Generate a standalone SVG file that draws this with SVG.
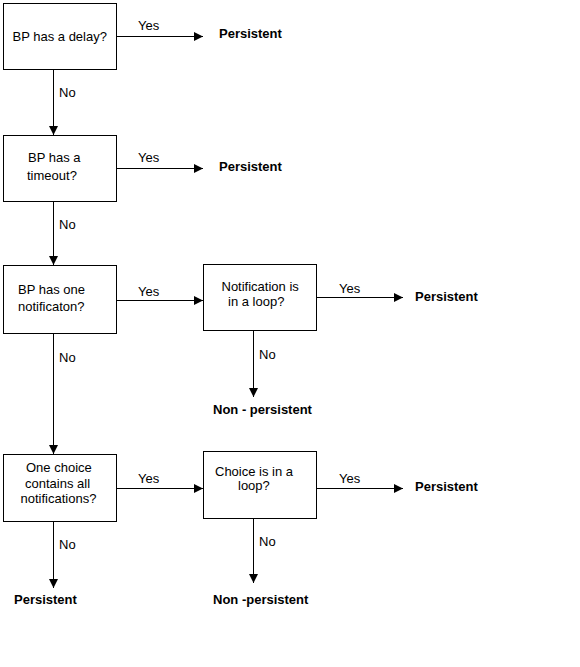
<svg xmlns="http://www.w3.org/2000/svg" width="580" height="667" viewBox="0 0 580 667">
<defs>
<style>
.box{fill:#fff;stroke:#000;stroke-width:1}
.t{font-family:"Liberation Sans",Arial,sans-serif;font-size:13px;fill:#000}
.b{font-family:"Liberation Sans",Arial,sans-serif;font-size:13px;font-weight:bold;fill:#000}
.c{stroke:#000;stroke-width:1;fill:none;marker-end:url(#ah)}
</style>
<marker id="ah" markerUnits="userSpaceOnUse" markerWidth="10" markerHeight="10" refX="9" refY="4.5" orient="auto">
<path d="M0,0 L9,4.5 L0,9 Z" fill="#000"/>
</marker>
</defs>
<rect width="580" height="667" fill="#fff"/>
<g id="connectors">
<line class="c" x1="116.5" y1="36.5" x2="203" y2="36.5"/>
<line class="c" x1="53.5" y1="69.5" x2="53.5" y2="135"/>
<line class="c" x1="116.5" y1="168.5" x2="203" y2="168.5"/>
<line class="c" x1="53.5" y1="201.5" x2="53.5" y2="265"/>
<line class="c" x1="116.5" y1="300.5" x2="203" y2="300.5"/>
<line class="c" x1="316.5" y1="297.5" x2="403" y2="297.5"/>
<line class="c" x1="253.5" y1="330.5" x2="253.5" y2="397"/>
<line class="c" x1="53.5" y1="333.5" x2="53.5" y2="454"/>
<line class="c" x1="116.5" y1="488.5" x2="203" y2="488.5"/>
<line class="c" x1="316.5" y1="488.5" x2="403" y2="488.5"/>
<line class="c" x1="253.5" y1="518.5" x2="253.5" y2="583"/>
<line class="c" x1="53.5" y1="521.5" x2="53.5" y2="588"/>
<text class="t" x="138" y="30">Yes</text>
<text class="t" x="59" y="97">No</text>
<text class="t" x="138" y="162">Yes</text>
<text class="t" x="59" y="229">No</text>
<text class="t" x="138" y="296">Yes</text>
<text class="t" x="339" y="292.5">Yes</text>
<text class="t" x="259" y="358.5">No</text>
<text class="t" x="59" y="361.5">No</text>
<text class="t" x="138" y="482.5">Yes</text>
<text class="t" x="339" y="482.5">Yes</text>
<text class="t" x="59" y="548.5">No</text>
<text class="t" x="259" y="545.5">No</text>
</g>
<g id="n1">
<rect class="box" x="3.5" y="3.5" width="113" height="66"/>
<text class="t" x="12.5" y="41">BP has a delay?</text>
</g>
<g id="n1p"><text class="b" x="219" y="38">Persistent</text></g>
<g id="n2">
<rect class="box" x="3.5" y="135.5" width="113" height="66"/>
<text class="t" x="28" y="162">BP has a</text>
<text class="t" x="27" y="179.5">timeout?</text>
</g>
<g id="n2p"><text class="b" x="219" y="171">Persistent</text></g>
<g id="n3">
<rect class="box" x="3.5" y="265.5" width="113" height="68"/>
<text class="t" x="18" y="294">BP has one</text>
<text class="t" x="18" y="311">notificaton?</text>
</g>
<g id="n4">
<rect class="box" x="203.5" y="264.5" width="113" height="66"/>
<text class="t" x="221.5" y="290.5">Notification is</text>
<text class="t" x="228" y="305.5">in a loop?</text>
</g>
<g id="n4p"><text class="b" x="415" y="300.5">Persistent</text></g>
<g id="n4n"><text class="b" x="213" y="413.5">Non - persistent</text></g>
<g id="n5">
<rect class="box" x="3.5" y="454.5" width="113" height="67"/>
<text class="t" x="26" y="472">One choice</text>
<text class="t" x="25" y="487.5">contains all</text>
<text class="t" x="20.5" y="503">notifications?</text>
</g>
<g id="n5p"><text class="b" x="14" y="604">Persistent</text></g>
<g id="n6">
<rect class="box" x="203.5" y="451.5" width="113" height="67"/>
<text class="t" x="215" y="475.5">Choice is in a</text>
<text class="t" x="238" y="490">loop?</text>
</g>
<g id="n6p"><text class="b" x="415" y="491">Persistent</text></g>
<g id="n6n"><text class="b" x="213" y="604">Non -persistent</text></g>
</svg>
